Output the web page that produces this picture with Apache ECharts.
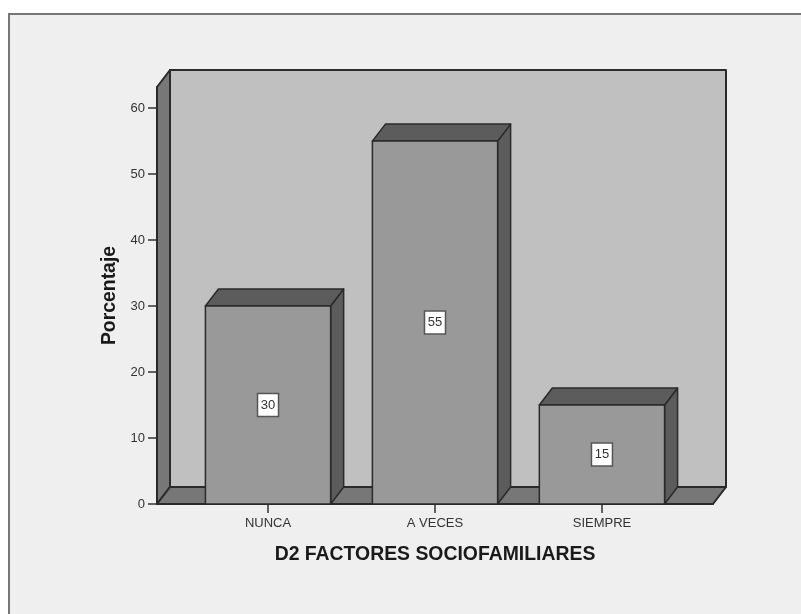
<!DOCTYPE html>
<html>
<head>
<meta charset="utf-8">
<style>html,body{margin:0;padding:0;background:#fff}#c{width:801px;height:614px}</style>
<script src="https://cdn.jsdelivr.net/npm/echarts@6/dist/echarts.min.js"></script>
</head>
<body>
<div id="c"></div>
<script>
const categories = ['NUNCA', 'A VECES', 'SIEMPRE'];
const values = [30, 55, 15];
const yTicks = [0, 10, 20, 30, 40, 50, 60];
const xTicks = [0, 1, 2];
const xTitle = 'D2 FACTORES SOCIOFAMILIARES';
const yTitle = 'Porcentaje';

const DX = 13, DY = 17, BAR_W = 0.75;
const XMIN = -0.665, XMAX = 2.665, YMAX = 63.2;
const EDGE = '#2a2a2a', FONT = '"Liberation Sans", Arial, sans-serif';

function poly(points, fill, lw) {
  return { type: 'polygon', shape: { points }, style: { fill, stroke: EDGE, lineWidth: lw || 1.5, lineJoin: 'round' } };
}

function renderWalls(params, api) {
  const a = api.coord([XMIN, 0]), b = api.coord([XMAX, 0]), t = api.coord([XMIN, YMAX]);
  return { type: 'group', children: [
    poly([[a[0]+DX,t[1]-DY],[b[0]+DX,t[1]-DY],[b[0]+DX,a[1]-DY],[a[0]+DX,a[1]-DY]], '#c0c0c0', 2),
    poly([[a[0],a[1]],[a[0],t[1]],[a[0]+DX,t[1]-DY],[a[0]+DX,a[1]-DY]], '#777777', 2),
    poly([[a[0],a[1]],[a[0]+DX,a[1]-DY],[b[0]+DX,b[1]-DY],[b[0],b[1]]], '#777777', 2)
  ]};
}

function renderBar(params, api) {
  const i = api.value(0), v = api.value(1);
  const p0 = api.coord([i - BAR_W / 2, 0]), p1 = api.coord([i + BAR_W / 2, v]), mid = api.coord([i, v / 2]);
  const l = p0[0], r = p1[0], b = p0[1], t = p1[1];
  return { type: 'group', children: [
    poly([[r,b],[r,t],[r+DX,t-DY],[r+DX,b-DY]], '#5c5c5c'),
    poly([[l,t],[l+DX,t-DY],[r+DX,t-DY],[r,t]], '#5c5c5c'),
    { type: 'rect', shape: { x: l, y: t, width: r - l, height: b - t }, style: { fill: '#999999', stroke: EDGE, lineWidth: 1.5 } },
    { type: 'rect', shape: { x: mid[0] - 10.5, y: mid[1] - 11.5, width: 21, height: 23 }, style: { fill: '#ffffff', stroke: '#555555', lineWidth: 1.5 } },
    { type: 'text', x: mid[0], y: mid[1], style: { text: String(v), fill: '#333333', font: '13px ' + FONT, align: 'center', verticalAlign: 'middle' } }
  ]};
}

const chart = echarts.init(document.getElementById('c'), null, { renderer: 'canvas' });
chart.setOption({
  animation: false,
  backgroundColor: '#ffffff',
  graphic: [{
    type: 'rect', z: -10, silent: true,
    shape: { x: 9, y: 14, width: 800, height: 610 },
    style: { fill: '#efefef', stroke: '#777777', lineWidth: 2 }
  }],
  grid: { left: 157, right: 88, top: 87, bottom: 110 },
  xAxis: {
    type: 'value', min: XMIN, max: XMAX,
    splitLine: { show: false },
    axisLine: { show: true, onZero: false, lineStyle: { color: EDGE, width: 2 } },
    axisTick: { show: true, length: 9, customValues: xTicks, lineStyle: { color: '#333333', width: 1.5 } },
    axisLabel: { customValues: xTicks, formatter: v => categories[v], color: '#333333', fontFamily: FONT, fontSize: 13, margin: 13 },
    name: xTitle, nameLocation: 'middle', nameGap: 41,
    nameTextStyle: { color: '#1a1a1a', fontFamily: FONT, fontWeight: 'bold', fontSize: 19.4 }
  },
  yAxis: {
    type: 'value', min: 0, max: YMAX,
    splitLine: { show: false },
    axisLine: { show: true, onZero: false, lineStyle: { color: EDGE, width: 2 } },
    axisTick: { show: true, length: 9, customValues: yTicks, lineStyle: { color: '#333333', width: 1.5 } },
    axisLabel: { customValues: yTicks, color: '#333333', fontFamily: FONT, fontSize: 13, margin: 12 },
    name: yTitle, nameLocation: 'middle', nameGap: 37,
    nameTextStyle: { color: '#1a1a1a', fontFamily: FONT, fontWeight: 'bold', fontSize: 19.4 }
  },
  series: [
    { type: 'custom', clip: false, silent: true, z: 1, renderItem: renderWalls, data: [[0, 0]], encode: { x: 0, y: 1 } },
    { type: 'custom', clip: false, silent: true, z: 2, renderItem: renderBar, data: values.map((v, i) => [i, v]), encode: { x: 0, y: 1 } }
  ]
});
</script>
</body>
</html>
